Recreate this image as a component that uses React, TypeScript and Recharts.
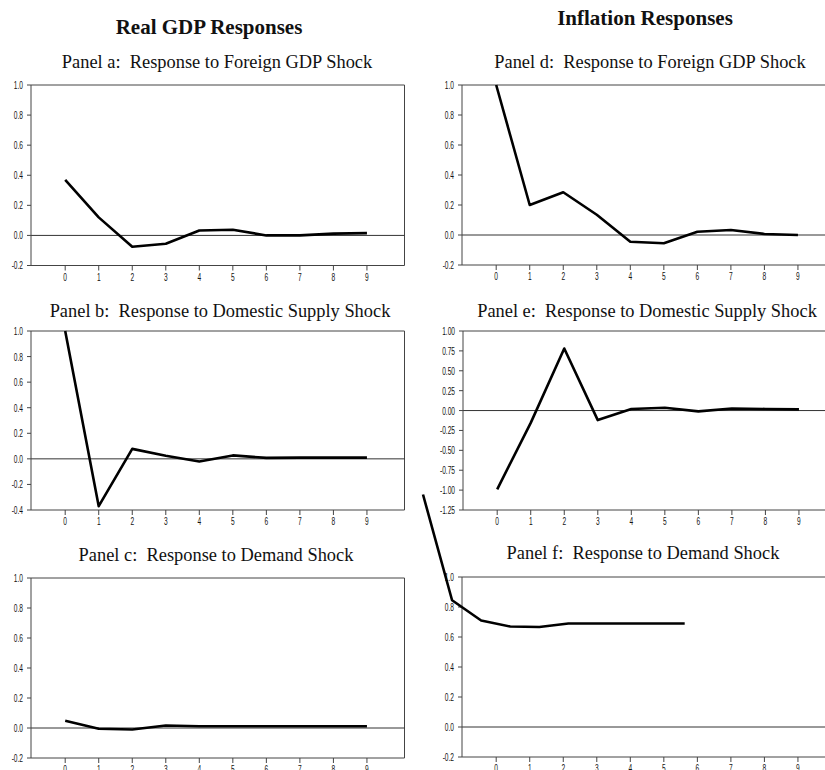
import React from 'react';
import { LineChart, Line, XAxis, YAxis, ReferenceLine } from 'recharts';

const PERIODS = [0, 1, 2, 3, 4, 5, 6, 7, 8, 9];

const GDP_FOREIGN = [0.37, 0.12, -0.075, -0.055, 0.033, 0.038, 0.0, 0.0, 0.012, 0.015];
const GDP_SUPPLY = [1.0, -0.37, 0.078, 0.025, -0.02, 0.027, 0.008, 0.01, 0.01, 0.01];
const GDP_DEMAND = [0.048, -0.005, -0.01, 0.017, 0.012, 0.012, 0.012, 0.012, 0.012, 0.012];
const INF_FOREIGN = [1.0, 0.2, 0.285, 0.135, -0.045, -0.055, 0.022, 0.033, 0.007, 0.0];
const INF_SUPPLY = [-0.99, -0.155, 0.78, -0.12, 0.02, 0.035, -0.01, 0.025, 0.02, 0.015];
// panel f's line sits shifted off its own axes in the original
const INF_DEMAND = [1.55, 0.845, 0.71, 0.67, 0.667, 0.69, 0.69, 0.69, 0.69, 0.69];

const TICKS_STD = [-0.2, 0, 0.2, 0.4, 0.6, 0.8, 1.0];
const TICKS_B = [-0.4, -0.2, 0, 0.2, 0.4, 0.6, 0.8, 1.0];
const TICKS_E = [-1.25, -1.0, -0.75, -0.5, -0.25, 0, 0.25, 0.5, 0.75, 1.0];

const X_DOMAIN: [number, number] = [-1.02, 10.12];
const Y_W = 34;
const PLOT_W = 373.5;
const AXIS = '#444';
const SERIF = "'Liberation Serif', 'Times New Roman', serif";

const toRows = (vals: number[]) => PERIODS.map((t, i) => ({ t, v: vals[i] }));

// narrow, tall tick labels like the Excel original
function NarrowTick(props: any) {
  const { x, y, payload, textAnchor, bottom, digits } = props;
  const label = bottom ? String(payload.value) : Number(payload.value).toFixed(digits);
  return (
    <g transform={`translate(${x},${y}) scale(0.6,1)`}>
      <text
        x={0} y={0} textAnchor={textAnchor} dy={bottom ? '0.75em' : '0.36em'}
        fontSize={11} fontFamily="'Liberation Sans', Arial, sans-serif" fill="#111"
      >
        {label}
      </text>
    </g>
  );
}

function Panel({
  left, top, plotH, ticks, digits, values, ghost,
}: {
  left: number; top: number; plotH: number; ticks: number[]; digits: number;
  values: number[]; ghost?: boolean;
}) {
  const yMin = ticks[0];
  const yMax = ticks[ticks.length - 1];
  return (
    <div style={{ position: 'absolute', left: left - Y_W, top: top - 6 }}>
      <LineChart
        width={Y_W + PLOT_W + 6}
        height={6 + plotH + 22}
        data={toRows(values)}
        margin={{ top: 6, right: 6, bottom: 0, left: 0 }}
      >
        <XAxis
          dataKey="t" type="number" domain={X_DOMAIN} ticks={PERIODS} interval={0}
          height={22} tick={(p: any) => <NarrowTick {...p} bottom />} tickSize={5} tickMargin={2}
          stroke={AXIS} tickLine={{ stroke: AXIS }}
        />
        <YAxis
          type="number" domain={[yMin, yMax]} ticks={ticks} interval={0} width={Y_W}
          allowDataOverflow={ghost}
          tick={(p: any) => <NarrowTick {...p} digits={digits} />} tickSize={4} tickMargin={4}
          stroke={AXIS} tickLine={{ stroke: AXIS }}
        />
        <ReferenceLine y={yMax} stroke={AXIS} />
        <ReferenceLine x={X_DOMAIN[1]} stroke={AXIS} />
        <ReferenceLine y={0} stroke="#333" />
        <Line
          dataKey="v" stroke={ghost ? 'none' : '#000'} strokeWidth={2.6} dot={false}
          isAnimationActive={false} strokeLinejoin="round"
        />
      </LineChart>
    </div>
  );
}

function Title({ x, y, text, bold }: { x: number; y: number; text: string; bold?: boolean }) {
  return (
    <div
      style={{
        position: 'absolute', left: x, top: y, transform: 'translate(-50%, -50%)',
        whiteSpace: 'pre', fontFamily: SERIF, fontSize: bold ? 21 : 18.4,
        fontWeight: bold ? 'bold' : 'normal', color: '#111', lineHeight: 1,
      }}
    >
      {text}
    </div>
  );
}

export default function App() {
  return (
    <div
      style={{
        position: 'absolute', left: 0, top: 0, width: 825, height: 770,
        overflow: 'hidden', background: '#fff',
      }}
    >
      <Title x={209} y={27} text="Real GDP Responses" bold />
      <Title x={645} y={18} text="Inflation Responses" bold />

      <Title x={217} y={62} text="Panel a:  Response to Foreign GDP Shock" />
      <Title x={650} y={62} text="Panel d:  Response to Foreign GDP Shock" />
      <Title x={220} y={311} text="Panel b:  Response to Domestic Supply Shock" />
      <Title x={647} y={311} text="Panel e:  Response to Domestic Supply Shock" />
      <Title x={216} y={555} text="Panel c:  Response to Demand Shock" />
      <Title x={643} y={553} text="Panel f:  Response to Demand Shock" />

      <Panel left={30.7} top={84.5} plotH={180.5} ticks={TICKS_STD} digits={1} values={GDP_FOREIGN} />
      <Panel left={30.7} top={331} plotH={179} ticks={TICKS_B} digits={1} values={GDP_SUPPLY} />
      <Panel left={30.7} top={577.7} plotH={180} ticks={TICKS_STD} digits={1} values={GDP_DEMAND} />

      <Panel left={462.3} top={85} plotH={180} ticks={TICKS_STD} digits={1} values={INF_FOREIGN} />
      <Panel left={463.3} top={331} plotH={179} ticks={TICKS_E} digits={2} values={INF_SUPPLY} />
      <Panel left={462.3} top={577.3} plotH={180} ticks={TICKS_STD} digits={1} values={INF_DEMAND} ghost />

      <div style={{ position: 'absolute', left: 418.3, top: 482.3 }}>
        <LineChart
          width={271.7} height={280} data={toRows(INF_DEMAND)}
          margin={{ top: 5, right: 5, bottom: 5, left: 5 }}
        >
          <XAxis dataKey="t" type="number" domain={[0, 9]} hide />
          <YAxis type="number" domain={[-0.2, 1.6]} hide />
          <Line
            dataKey="v" stroke="#000" strokeWidth={2.6} dot={false}
            isAnimationActive={false} strokeLinejoin="round"
          />
        </LineChart>
      </div>
    </div>
  );
}
